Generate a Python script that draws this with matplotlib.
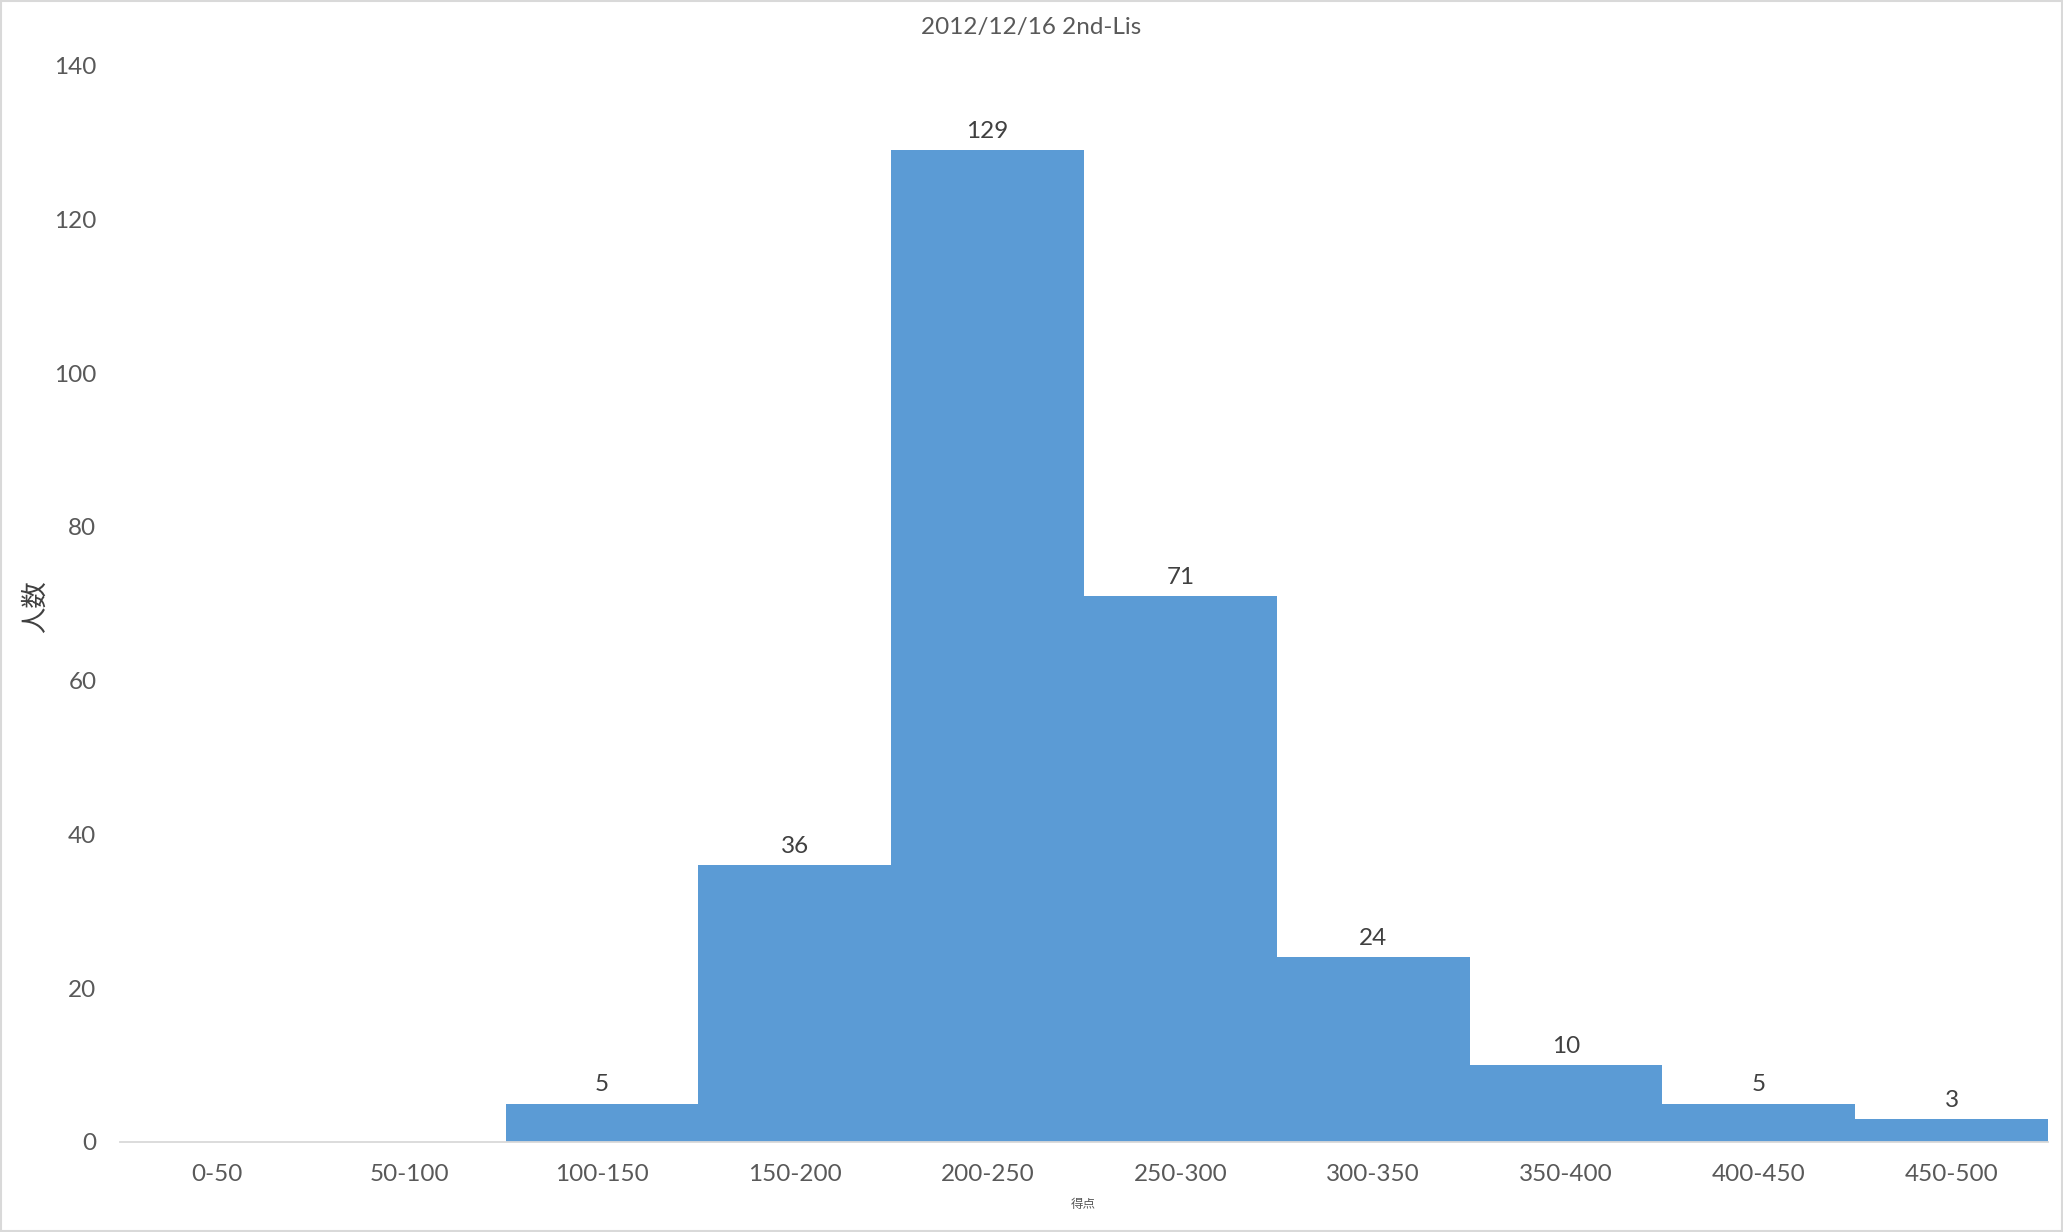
import matplotlib
matplotlib.use("Agg")
import matplotlib.pyplot as plt
from matplotlib.patches import Rectangle

categories = ["0-50", "50-100", "100-150", "150-200", "200-250", "250-300",
              "300-350", "350-400", "400-450", "450-500"]
counts = [0, 0, 5, 36, 129, 71, 24, 10, 5, 3]
yticks = [0, 20, 40, 60, 80, 100, 120, 140]

plt.rcParams['font.family'] = ['Lato', 'Noto Sans CJK JP', 'DejaVu Sans']
txt = '#595959'

fig = plt.figure(figsize=(20.63, 12.32), dpi=100)
ax = fig.add_axes([0.0582, 0.0731, 0.9345, 0.8735])

x = list(range(len(categories)))
bars = ax.bar(x, counts, width=1.0, color='#5B9BD5', zorder=2)
for xi, c in zip(x, counts):
    if c > 0:
        ax.annotate(str(c), (xi, c), xytext=(0, 6), textcoords='offset points',
                    ha='center', va='bottom', fontsize=17.5, color='#404040')

ax.set_xlim(-0.5, len(categories) - 0.5)
ax.set_ylim(0, 140)
ax.set_yticks(yticks)
ax.set_xticks(x)
ax.set_xticklabels(categories)
ax.tick_params(axis='both', length=0, labelsize=17.5, labelcolor=txt)
ax.tick_params(axis='y', pad=17)
ax.tick_params(axis='x', pad=16)
for s in ['top', 'right', 'left']:
    ax.spines[s].set_visible(False)
ax.spines['bottom'].set_color('#D9D9D9')
ax.spines['bottom'].set_linewidth(1.3)

fig.text(0.5, 0.978, "2012/12/16 2nd-Lis", ha='center', va='center', fontsize=17.5, color=txt)
fig.text(0.017, 0.508, "人数", rotation=90, ha='center', va='center', fontsize=19, color='#404040',
         family=['Noto Sans CJK JP', 'DejaVu Sans'])
fig.text(0.525, 0.022, "得点", ha='center', va='center', fontsize=9, color=txt,
         family=['Noto Sans CJK JP', 'DejaVu Sans'])

fig.patches.append(Rectangle((0.0005, 0.0005), 0.999, 0.999, transform=fig.transFigure,
                             fill=False, edgecolor='#D9D9D9', linewidth=1.5))

fig.savefig("out.png", dpi=100)
